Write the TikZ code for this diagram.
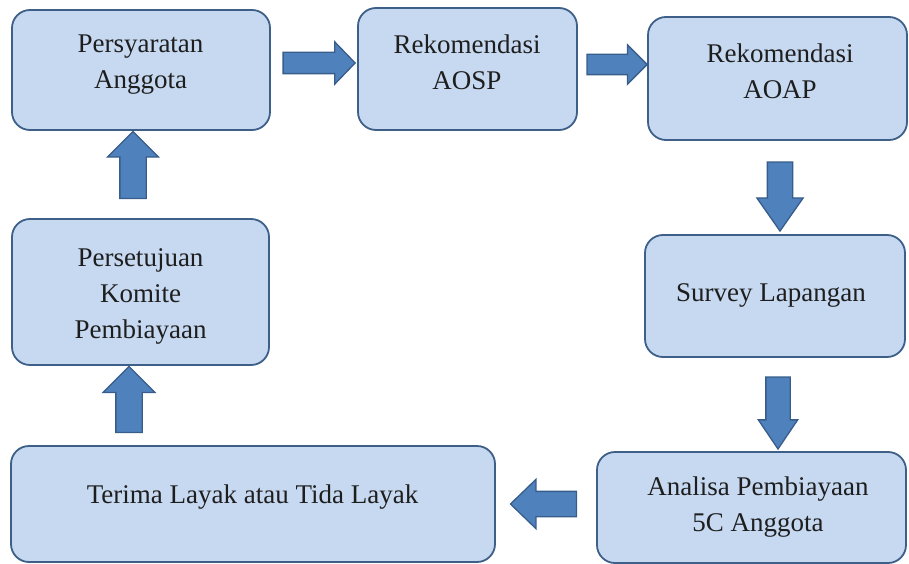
\documentclass[tikz,border=0pt]{standalone}
\usepackage{fontspec}
\setmainfont{Liberation Serif}
\usetikzlibrary{shapes.arrows}
\definecolor{boxfill}{HTML}{C6D9F1}
\definecolor{boxline}{HTML}{3E5F87}
\definecolor{arrfill}{HTML}{4F81BD}
\definecolor{arrline}{HTML}{385D8A}
\definecolor{txtcol}{HTML}{1E1E1E}
\tikzset{
  box/.style={draw=boxline, fill=boxfill, line width=1.8pt, rounded corners=18pt, inner sep=0pt},
  txt/.style={align=center, text=txtcol, inner sep=0pt, font=\fontsize{27}{36}\selectfont},
  barrow/.style={single arrow, draw=arrline, fill=arrfill, line width=1.3pt, inner xsep=0pt,
    single arrow head indent=0pt}
}
\begin{document}
\begin{tikzpicture}[x=1pt,y=-1pt]
\useasboundingbox (0,0) rectangle (909,564);
% boxes
\node[box, minimum width=258pt, minimum height=120pt] (b1) at (141,70) {};
\node[box, minimum width=219pt, minimum height=122pt] (b2) at (467.5,69) {};
\node[box, minimum width=259pt, minimum height=123pt] (b3) at (777.5,78.5) {};
\node[box, minimum width=260pt, minimum height=122pt] (b4) at (775,296) {};
\node[box, minimum width=309pt, minimum height=111pt] (b5) at (751.5,507.5) {};
\node[box, minimum width=484pt, minimum height=116pt] (b6) at (253,504) {};
\node[box, minimum width=257pt, minimum height=146pt] (b7) at (140.5,292) {};
% texts
\node[txt] (t1) at (140.5,64.5) {Persyaratan\\Anggota};
\node[txt] (t2) at (467,62.5) {Rekomendasi\\AOSP};
\node[txt] (t3) at (780,71) {Rekomendasi\\AOAP};
\node[txt] (t4) at (771,295.5) {Survey Lapangan};
\node[txt] (t5) at (758,507) {Analisa Pembiayaan\\5C Anggota};
\node[txt] (t6) at (252.5,497.5) {Terima Layak atau Tida Layak};
\node[txt] (t7) at (140.5,296) {Persetujuan\\Komite\\Pembiayaan};
% block arrows
\node[barrow, minimum height=72pt, minimum width=41pt, inner ysep=10pt,
  single arrow head extend=10.5pt, single arrow tip angle=92] (a1) at (314,63) {};
\node[barrow, minimum height=60pt, minimum width=38pt, inner ysep=9.5pt,
  single arrow head extend=9.5pt, single arrow tip angle=90] (a2) at (612,64.5) {};
\node[barrow, rotate=-90, minimum height=69pt, minimum width=45pt, inner ysep=12pt,
  single arrow head extend=10.5pt, single arrow tip angle=70] (a3) at (780,187.5) {};
\node[barrow, rotate=-90, minimum height=72pt, minimum width=38pt, inner ysep=11.5pt,
  single arrow head extend=7.5pt, single arrow tip angle=68] (a4) at (778,404) {};
\node[barrow, rotate=180, minimum height=66pt, minimum width=48pt, inner ysep=12pt,
  single arrow head extend=12pt, single arrow tip angle=88] (a5) at (550,504) {};
\node[barrow, rotate=90, minimum height=67pt, minimum width=50pt, inner ysep=12.5pt,
  single arrow head extend=12.5pt, single arrow tip angle=90] (a6) at (133,171.5) {};
\node[barrow, rotate=90, minimum height=66pt, minimum width=51pt, inner ysep=12.5pt,
  single arrow head extend=13pt, single arrow tip angle=90] (a7) at (129,406) {};
\end{tikzpicture}
\end{document}
